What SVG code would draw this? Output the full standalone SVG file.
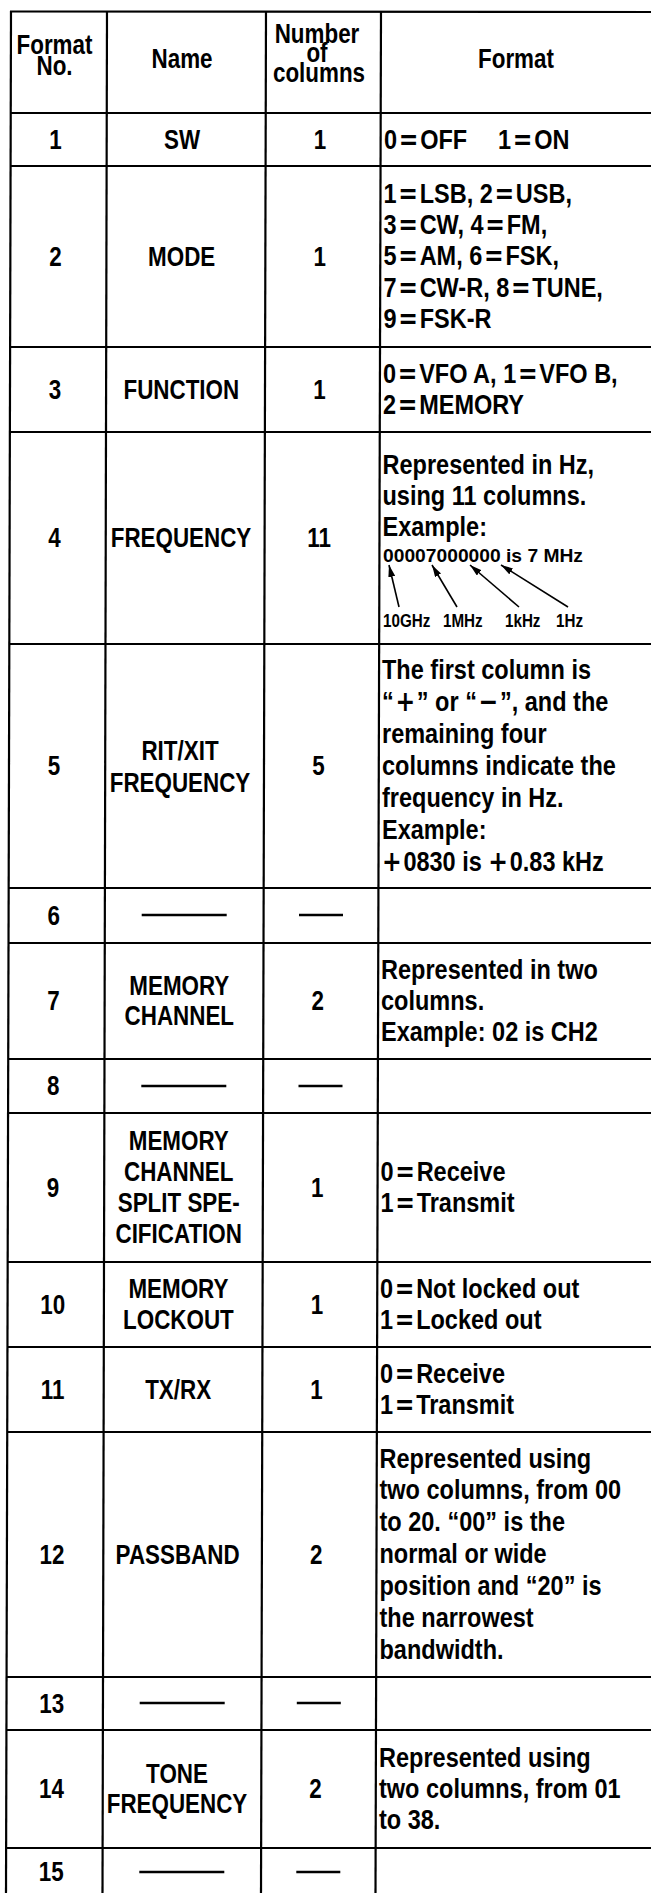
<svg xmlns="http://www.w3.org/2000/svg" width="651" height="1893" viewBox="0 0 651 1893">
<style>
.t{font-family:"Liberation Sans",Arial,sans-serif;font-weight:bold;font-size:28px;fill:#000}
.m{text-anchor:middle}
.w{font-family:"DejaVu Sans",sans-serif;font-weight:bold}
.sm{font-family:"Liberation Sans",Arial,sans-serif;font-weight:bold;font-size:19px;fill:#000}
.g{stroke:#000;stroke-width:2.2;fill:none}
.d{stroke:#000;stroke-width:2.6}
.a{stroke:#000;stroke-width:1.6;fill:none;marker-end:url(#ah)}
</style>
<defs>
<marker id="ah" viewBox="0 0 12 7" refX="12" refY="3.5" markerWidth="12" markerHeight="7" markerUnits="userSpaceOnUse" orient="auto">
<path d="M0,0 L12,3.5 L0,7 Z" fill="#000"/>
</marker>
</defs>
<rect width="651" height="1893" fill="#fff"/>
<g id="grid">
<line class="g" x1="11" y1="11" x2="6" y2="1893"/>
<line class="g" x1="107" y1="11" x2="102.5" y2="1893"/>
<line class="g" x1="266" y1="11" x2="261" y2="1893"/>
<line class="g" x1="381" y1="11" x2="375.5" y2="1893"/>
<line class="g" x1="10" y1="11.5" x2="651" y2="12"/>
<line class="g" x1="10" y1="113" x2="651" y2="113"/>
<line class="g" x1="10" y1="166" x2="651" y2="166"/>
<line class="g" x1="9" y1="347" x2="651" y2="347"/>
<line class="g" x1="9" y1="432" x2="651" y2="432"/>
<line class="g" x1="9" y1="644" x2="651" y2="644"/>
<line class="g" x1="8.5" y1="888" x2="651" y2="888"/>
<line class="g" x1="8.5" y1="943" x2="651" y2="943"/>
<line class="g" x1="8" y1="1059" x2="651" y2="1059"/>
<line class="g" x1="8" y1="1113" x2="651" y2="1113"/>
<line class="g" x1="7.5" y1="1262" x2="651" y2="1262"/>
<line class="g" x1="7.5" y1="1347" x2="651" y2="1347"/>
<line class="g" x1="7" y1="1432" x2="651" y2="1432"/>
<line class="g" x1="6.5" y1="1677" x2="651" y2="1677"/>
<line class="g" x1="6.5" y1="1730" x2="651" y2="1730"/>
<line class="g" x1="6" y1="1848" x2="651" y2="1848"/>
</g>
<g id="header">
<text class="t m" transform="translate(54.5,54) scale(0.8,1)">Format</text>
<text class="t m" transform="translate(54.5,75) scale(0.8,1)">No.</text>
<text class="t m" transform="translate(182,68) scale(0.8,1)">Name</text>
<text class="t m" transform="translate(317,43) scale(0.8,1)">Number</text>
<text class="t m" transform="translate(317,62) scale(0.8,1)">of</text>
<text class="t m" transform="translate(319,82) scale(0.8,1)">columns</text>
<text class="t m" transform="translate(516,68) scale(0.8,1)">Format</text>
</g>
<g id="row1">
<text class="t m" transform="translate(55.6,148.5) scale(0.8,1)">1</text>
<text class="t m" transform="translate(182,148.5) scale(0.8,1)">SW</text>
<text class="t m" transform="translate(320,148.5) scale(0.8,1)">1</text>
<text class="t" transform="translate(384,148.5) scale(0.84,1)">0<tspan class="w" dx="2">=</tspan><tspan dx="2">OFF</tspan></text>
<text class="t" transform="translate(498,148.5) scale(0.84,1)">1<tspan class="w" dx="2">=</tspan><tspan dx="2">ON</tspan></text>
</g>
<g id="row2">
<text class="t m" transform="translate(55.4,265.5) scale(0.8,1)">2</text>
<text class="t m" transform="translate(181.7,265.5) scale(0.8,1)">MODE</text>
<text class="t m" transform="translate(319.8,265.5) scale(0.8,1)">1</text>
<text class="t" transform="translate(383.5,202.5) scale(0.84,1)"><tspan x="0">1<tspan class="w" dx="2">=</tspan><tspan dx="2">LSB, 2</tspan><tspan class="w" dx="2">=</tspan><tspan dx="2">USB,</tspan></tspan><tspan x="0" dy="31.5">3<tspan class="w" dx="2">=</tspan><tspan dx="2">CW, 4</tspan><tspan class="w" dx="2">=</tspan><tspan dx="2">FM,</tspan></tspan><tspan x="0" dy="31.5">5<tspan class="w" dx="2">=</tspan><tspan dx="2">AM, 6</tspan><tspan class="w" dx="2">=</tspan><tspan dx="2">FSK,</tspan></tspan><tspan x="0" dy="31.5">7<tspan class="w" dx="2">=</tspan><tspan dx="2">CW-R, 8</tspan><tspan class="w" dx="2">=</tspan><tspan dx="2">TUNE,</tspan></tspan><tspan x="0" dy="31.5">9<tspan class="w" dx="2">=</tspan><tspan dx="2">FSK-R</tspan></tspan></text>
</g>
<g id="row3">
<text class="t m" transform="translate(55,398.5) scale(0.8,1)">3</text>
<text class="t m" transform="translate(181.3,398.5) scale(0.8,1)">FUNCTION</text>
<text class="t m" transform="translate(319.4,398.5) scale(0.8,1)">1</text>
<text class="t" transform="translate(383,383) scale(0.84,1)"><tspan x="0">0<tspan class="w" dx="2">=</tspan><tspan dx="2">VFO A, 1</tspan><tspan class="w" dx="2">=</tspan><tspan dx="2">VFO B,</tspan></tspan><tspan x="0" dy="31.5">2<tspan class="w" dx="2">=</tspan><tspan dx="2">MEMORY</tspan></tspan></text>
</g>
<g id="row4">
<text class="t m" transform="translate(54.6,547) scale(0.8,1)">4</text>
<text class="t m" transform="translate(181,547) scale(0.8,1)">FREQUENCY</text>
<text class="t m" transform="translate(319,547) scale(0.8,1)">11</text>
<text class="t" transform="translate(382.5,474) scale(0.84,1)"><tspan x="0">Represented in Hz,</tspan><tspan x="0" dy="31">using 11 columns.</tspan><tspan x="0" dy="31">Example:</tspan></text>
<text class="sm" x="383" y="562" textLength="200" lengthAdjust="spacingAndGlyphs">00007000000 is 7 MHz</text>
<text class="sm" transform="translate(383,627) scale(0.8,1)">10GHz</text>
<text class="sm" transform="translate(443,627) scale(0.8,1)">1MHz</text>
<text class="sm" transform="translate(505,627) scale(0.8,1)">1kHz</text>
<text class="sm" transform="translate(556,627) scale(0.8,1)">1Hz</text>
</g>
<g id="connectors">
<line class="a" x1="399" y1="607" x2="389" y2="565"/>
<line class="a" x1="457" y1="607" x2="432" y2="565"/>
<line class="a" x1="519" y1="607" x2="470" y2="565"/>
<line class="a" x1="568" y1="607" x2="501" y2="565"/>
</g>
<g id="row5">
<text class="t m" transform="translate(54,775) scale(0.8,1)">5</text>
<text class="t m" transform="translate(180,760) scale(0.8,1)"><tspan x="0">RIT/XIT</tspan><tspan x="0" dy="32">FREQUENCY</tspan></text>
<text class="t m" transform="translate(318.4,775) scale(0.8,1)">5</text>
<text class="t" transform="translate(382,679) scale(0.84,1)"><tspan x="0">The first column is</tspan><tspan x="0" dy="32">“<tspan class="w" dx="2">+</tspan><tspan dx="2">” or “</tspan><tspan class="w" dx="2">−</tspan><tspan dx="2">”, and the</tspan></tspan><tspan x="0" dy="32">remaining four</tspan><tspan x="0" dy="32">columns indicate the</tspan><tspan x="0" dy="32">frequency in Hz.</tspan><tspan x="0" dy="32">Example:</tspan><tspan x="0" dy="32"><tspan class="w">+</tspan><tspan dx="2">0830 is </tspan><tspan class="w">+</tspan><tspan dx="2">0.83 kHz</tspan></tspan></text>
</g>
<g id="row6">
<text class="t m" transform="translate(53.7,924.5) scale(0.8,1)">6</text>
<line class="d" x1="141.7" y1="915" x2="226.7" y2="915"/>
<line class="d" x1="299" y1="915" x2="343" y2="915"/>
</g>
<g id="row7">
<text class="t m" transform="translate(53.5,1010) scale(0.8,1)">7</text>
<text class="t m" transform="translate(179.3,994.5) scale(0.8,1)"><tspan x="0">MEMORY</tspan><tspan x="0" dy="31">CHANNEL</tspan></text>
<text class="t m" transform="translate(317.7,1010) scale(0.8,1)">2</text>
<text class="t" transform="translate(381,978.5) scale(0.84,1)"><tspan x="0">Represented in two</tspan><tspan x="0" dy="31.5">columns.</tspan><tspan x="0" dy="31.5">Example: 02 is CH2</tspan></text>
</g>
<g id="row8">
<text class="t m" transform="translate(53.3,1095) scale(0.8,1)">8</text>
<line class="d" x1="141.3" y1="1086" x2="226.3" y2="1086"/>
<line class="d" x1="298.5" y1="1086" x2="342.5" y2="1086"/>
</g>
<g id="row9">
<text class="t m" transform="translate(53,1196.5) scale(0.8,1)">9</text>
<text class="t m" transform="translate(178.7,1150) scale(0.8,1)"><tspan x="0">MEMORY</tspan><tspan x="0" dy="31">CHANNEL</tspan><tspan x="0" dy="31">SPLIT SPE-</tspan><tspan x="0" dy="31">CIFICATION</tspan></text>
<text class="t m" transform="translate(317.2,1196.5) scale(0.8,1)">1</text>
<text class="t" transform="translate(380.5,1181) scale(0.84,1)"><tspan x="0">0<tspan class="w" dx="2">=</tspan><tspan dx="2">Receive</tspan></tspan><tspan x="0" dy="31.5">1<tspan class="w" dx="2">=</tspan><tspan dx="2">Transmit</tspan></tspan></text>
</g>
<g id="row10">
<text class="t m" transform="translate(52.7,1313.5) scale(0.8,1)">10</text>
<text class="t m" transform="translate(178.4,1298) scale(0.8,1)"><tspan x="0">MEMORY</tspan><tspan x="0" dy="31">LOCKOUT</tspan></text>
<text class="t m" transform="translate(316.9,1313.5) scale(0.8,1)">1</text>
<text class="t" transform="translate(380,1298) scale(0.84,1)"><tspan x="0">0<tspan class="w" dx="2">=</tspan><tspan dx="2">Not locked out</tspan></tspan><tspan x="0" dy="31.5">1<tspan class="w" dx="2">=</tspan><tspan dx="2">Locked out</tspan></tspan></text>
</g>
<g id="row11">
<text class="t m" transform="translate(52.5,1398.5) scale(0.8,1)">11</text>
<text class="t m" transform="translate(178.1,1398.5) scale(0.8,1)">TX/RX</text>
<text class="t m" transform="translate(316.6,1398.5) scale(0.8,1)">1</text>
<text class="t" transform="translate(380,1383) scale(0.84,1)"><tspan x="0">0<tspan class="w" dx="2">=</tspan><tspan dx="2">Receive</tspan></tspan><tspan x="0" dy="31.5">1<tspan class="w" dx="2">=</tspan><tspan dx="2">Transmit</tspan></tspan></text>
</g>
<g id="row12">
<text class="t m" transform="translate(52,1563.5) scale(0.8,1)">12</text>
<text class="t m" transform="translate(177.6,1563.5) scale(0.8,1)">PASSBAND</text>
<text class="t m" transform="translate(316.2,1563.5) scale(0.8,1)">2</text>
<text class="t" transform="translate(379.5,1467.5) scale(0.84,1)"><tspan x="0">Represented using</tspan><tspan x="0" dy="32">two columns, from 00</tspan><tspan x="0" dy="32">to 20. “00” is the</tspan><tspan x="0" dy="32">normal or wide</tspan><tspan x="0" dy="32">position and “20” is</tspan><tspan x="0" dy="32">the narrowest</tspan><tspan x="0" dy="32">bandwidth.</tspan></text>
</g>
<g id="row13">
<text class="t m" transform="translate(51.7,1712.5) scale(0.8,1)">13</text>
<line class="d" x1="139.7" y1="1703" x2="224.7" y2="1703"/>
<line class="d" x1="296.8" y1="1703" x2="340.8" y2="1703"/>
</g>
<g id="row14">
<text class="t m" transform="translate(51.5,1798) scale(0.8,1)">14</text>
<text class="t m" transform="translate(177,1782.5) scale(0.8,1)"><tspan x="0">TONE</tspan><tspan x="0" dy="31">FREQUENCY</tspan></text>
<text class="t m" transform="translate(315.5,1798) scale(0.8,1)">2</text>
<text class="t" transform="translate(379,1766.5) scale(0.84,1)"><tspan x="0">Represented using</tspan><tspan x="0" dy="31.5">two columns, from 01</tspan><tspan x="0" dy="31.5">to 38.</tspan></text>
</g>
<g id="row15">
<text class="t m" transform="translate(51.3,1881) scale(0.8,1)">15</text>
<line class="d" x1="139.3" y1="1872" x2="224.3" y2="1872"/>
<line class="d" x1="296.3" y1="1872" x2="340.3" y2="1872"/>
</g>
</svg>
